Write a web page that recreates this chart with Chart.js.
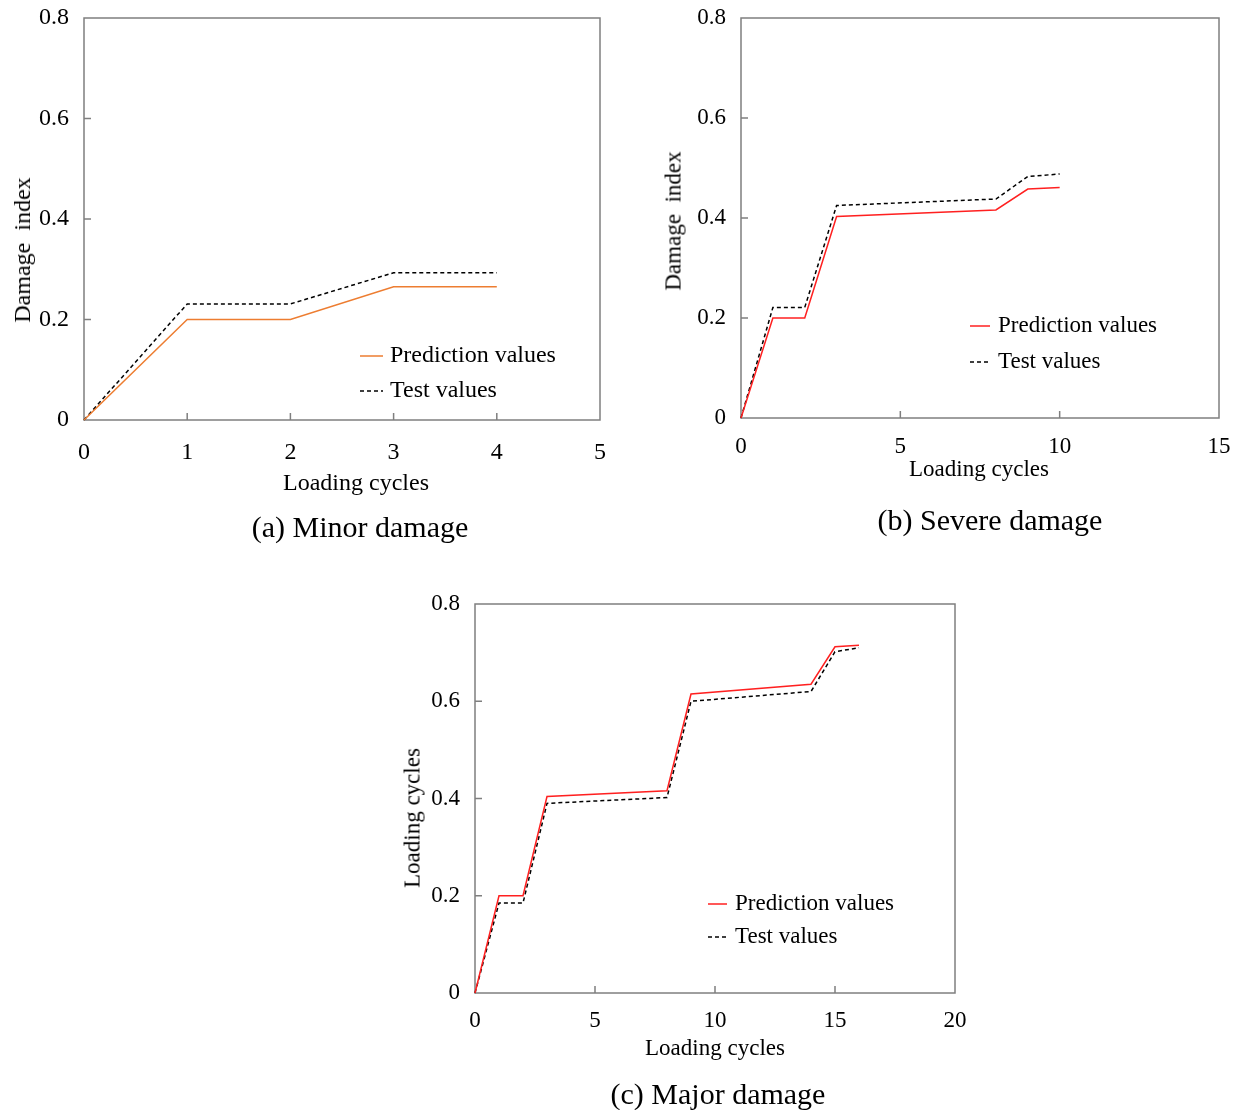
<!DOCTYPE html>
<html>
<head>
<meta charset="utf-8">
<script src="https://cdn.jsdelivr.net/npm/chart.js@4"></script>
<style>
  body { margin: 0; background: #fff; }
  #page { position: relative; width: 1239px; height: 1110px; font-family: "Liberation Serif", "Times New Roman", serif; color: #000; }
  canvas { position: absolute; }
  .txt { position: absolute; white-space: pre; line-height: 1; transform: translate(-50%, -50%); }
  .rot { transform: translate(-50%, -50%) rotate(-90deg); }
</style>
</head>
<body>
<div id="page">
  <canvas id="chartA" width="620" height="470" style="left:0px;top:0px"></canvas>
  <canvas id="chartB" width="599" height="470" style="left:640px;top:0px"></canvas>
  <canvas id="chartC" width="600" height="460" style="left:380px;top:580px"></canvas>

  <div class="txt rot" style="left:22px;top:250px;font-size:24px">Damage  index</div>
  <div class="txt" style="left:356px;top:482px;font-size:24px">Loading cycles</div>
  <div class="txt" style="left:360px;top:527px;font-size:30px">(a) Minor damage</div>

  <div class="txt rot" style="left:673px;top:221px;font-size:23px">Damage  index</div>
  <div class="txt" style="left:979px;top:468px;font-size:23px">Loading cycles</div>
  <div class="txt" style="left:990px;top:520px;font-size:30px">(b) Severe damage</div>

  <div class="txt rot" style="left:412px;top:818px;font-size:23px">Loading cycles</div>
  <div class="txt" style="left:715px;top:1047px;font-size:23px">Loading cycles</div>
  <div class="txt" style="left:718px;top:1094px;font-size:30px">(c) Major damage</div>
</div>
<script>
// (a) minor damage
const cyclesA = [0, 1, 2, 3, 4];
const predA = [0, 0.2, 0.2, 0.265, 0.265];
const testA = [0, 0.231, 0.231, 0.293, 0.293];

// (b) severe damage
const cyclesB = [0, 1, 2, 3, 8, 9, 10];
const predB = [0, 0.2, 0.2, 0.403, 0.416, 0.458, 0.461];
const testB = [0, 0.221, 0.221, 0.425, 0.438, 0.483, 0.488];

// (c) major damage
const cyclesC = [0, 1, 2, 3, 8, 9, 14, 15, 16];
const predC = [0, 0.2, 0.2, 0.404, 0.416, 0.615, 0.635, 0.712, 0.715];
const testC = [0, 0.185, 0.185, 0.39, 0.402, 0.60, 0.62, 0.702, 0.71];

const yTicks = [0, 0.2, 0.4, 0.6, 0.8];

const serif = "'Liberation Serif', 'Times New Roman', serif";
const frameColor = "#7f7f7f";

function toPoints(xs, ys) {
    return xs.map((x, i) => ({ x: x, y: ys[i] }));
}

// frame round the plot area with ticks pointing inwards
const framePlugin = {
    id: "frame",
    beforeDatasetsDraw(chart) {
        const ctx = chart.ctx;
        const area = chart.chartArea;
        const xs = chart.scales.x;
        const ys = chart.scales.y;
        ctx.save();
        ctx.strokeStyle = frameColor;
        ctx.lineWidth = 1.5;
        ctx.strokeRect(area.left, area.top, area.right - area.left, area.bottom - area.top);
        ctx.beginPath();
        xs.ticks.forEach(t => {
            if (t.value <= xs.min || t.value >= xs.max) return;
            const px = xs.getPixelForValue(t.value);
            ctx.moveTo(px, area.bottom);
            ctx.lineTo(px, area.bottom - 7);
        });
        ys.ticks.forEach(t => {
            if (t.value <= ys.min || t.value >= ys.max) return;
            const py = ys.getPixelForValue(t.value);
            ctx.moveTo(area.left, py);
            ctx.lineTo(area.left + 7, py);
        });
        ctx.stroke();
        ctx.restore();
    }
};

// legend placed inside the plot, like the original figure
const boxLegendPlugin = {
    id: "boxLegend",
    afterDraw(chart, args, opts) {
        const ctx = chart.ctx;
        ctx.save();
        ctx.font = opts.fontSize + "px " + serif;
        ctx.textBaseline = "middle";
        ctx.fillStyle = "#000";
        chart.data.datasets.forEach((ds, i) => {
            const y = opts.y + i * opts.rowGap;
            ctx.strokeStyle = ds.borderColor;
            ctx.lineWidth = ds.borderWidth;
            ctx.setLineDash(ds.borderDash || []);
            ctx.beginPath();
            ctx.moveTo(opts.x, y);
            ctx.lineTo(opts.x + opts.lineLen, y);
            ctx.stroke();
            ctx.setLineDash([]);
            ctx.fillText(ds.label, opts.x + opts.lineLen + opts.textGap, y);
        });
        ctx.restore();
    }
};

function makeChart(id, cfg) {
    const ctx = document.getElementById(id).getContext("2d");
    return new Chart(ctx, {
        type: "line",
        data: {
            datasets: [
                {
                    label: "Prediction values",
                    data: toPoints(cfg.xs, cfg.pred),
                    borderColor: cfg.predColor,
                    borderWidth: 1.5,
                    pointRadius: 0,
                    tension: 0,
                    clip: false
                },
                {
                    label: "Test values",
                    data: toPoints(cfg.xs, cfg.test),
                    borderColor: "#000000",
                    borderWidth: 1.5,
                    borderDash: [4, 3],
                    pointRadius: 0,
                    tension: 0,
                    clip: false
                }
            ]
        },
        options: {
            responsive: false,
            animation: false,
            devicePixelRatio: 1,
            layout: { padding: cfg.padding },
            plugins: {
                legend: { display: false },
                tooltip: { enabled: false },
                boxLegend: cfg.legend
            },
            scales: {
                x: {
                    type: "linear",
                    min: 0,
                    max: cfg.xMax,
                    grid: { display: false, drawTicks: false },
                    border: { display: false },
                    ticks: {
                        stepSize: cfg.xStep,
                        color: "#000",
                        padding: cfg.xPad,
                        font: { family: serif, size: cfg.tickSize }
                    },
                    afterFit(scale) {
                        scale.height = cfg.xHeight;
                        scale.paddingLeft = 0;
                        scale.paddingRight = 0;
                    }
                },
                y: {
                    type: "linear",
                    min: 0,
                    max: 0.8,
                    afterBuildTicks(scale) { scale.ticks = yTicks.map(v => ({ value: v })); },
                    grid: { display: false, drawTicks: false },
                    border: { display: false },
                    ticks: {
                        color: "#000",
                        padding: 15,
                        font: { family: serif, size: cfg.tickSize }
                    },
                    afterFit(scale) {
                        scale.width = cfg.yWidth;
                        scale.paddingTop = 0;
                        scale.paddingBottom = 0;
                    }
                }
            }
        },
        plugins: [framePlugin, boxLegendPlugin]
    });
}

makeChart("chartA", {
    xs: cyclesA, pred: predA, test: testA,
    predColor: "#ED7D31",
    xMax: 5, xStep: 1,
    tickSize: 24, xPad: 18,
    padding: { top: 18, right: 20, left: 0, bottom: 0 },
    xHeight: 50, yWidth: 84,
    legend: { x: 360, y: 356, rowGap: 35, lineLen: 23, textGap: 7, fontSize: 24 }
});

makeChart("chartB", {
    xs: cyclesB, pred: predB, test: testB,
    predColor: "#FF2020",
    xMax: 15, xStep: 5,
    tickSize: 23, xPad: 15,
    padding: { top: 18, right: 20, left: 0, bottom: 0 },
    xHeight: 52, yWidth: 101,
    legend: { x: 330, y: 326, rowGap: 36, lineLen: 20, textGap: 8, fontSize: 23 }
});

makeChart("chartC", {
    xs: cyclesC, pred: predC, test: testC,
    predColor: "#FF2020",
    xMax: 20, xStep: 5,
    tickSize: 23, xPad: 14,
    padding: { top: 24, right: 25, left: 0, bottom: 0 },
    xHeight: 47, yWidth: 95,
    legend: { x: 328, y: 324, rowGap: 33, lineLen: 19, textGap: 8, fontSize: 23 }
});
</script>
</body>
</html>
